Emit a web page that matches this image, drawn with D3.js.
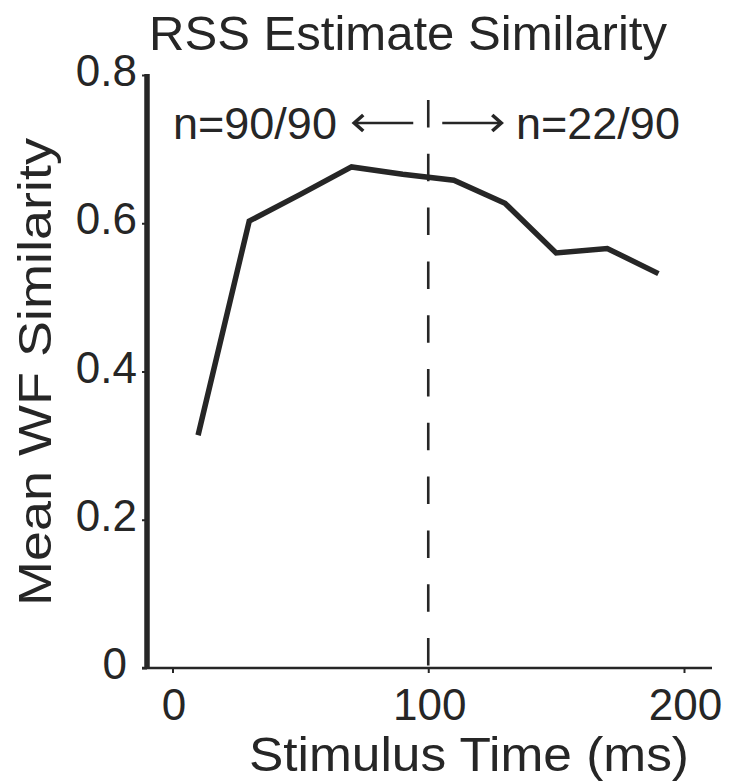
<!DOCTYPE html>
<html>
<head>
<meta charset="utf-8">
<script src="https://cdn.jsdelivr.net/npm/d3@7"></script>
<style>
  html, body { margin: 0; padding: 0; background: #fff; }
  svg { display: block; font-family: "Liberation Sans", Arial, Helvetica, sans-serif; }
</style>
</head>
<body>
<svg id="chart" width="731" height="783"></svg>
<script>
// ---- data ----
const times = [10, 30, 50, 70, 90, 110, 130, 150, 170, 190];
const similarity = [0.314, 0.603, 0.639, 0.676, 0.666, 0.658, 0.627, 0.560, 0.566, 0.532];
const xTicks = [0, 100, 200];
const yTicks = [0, 0.2, 0.4, 0.6, 0.8];
const yTickLabels = ["0", "0.2", "0.4", "0.6", "0.8"];
const splitTime = 100;
const leftLabel = "n=90/90";
const rightLabel = "n=22/90";
const titleText = "RSS Estimate Similarity";
const xLabel = "Stimulus Time (ms)";
const yLabel = "Mean WF Similarity";

// ---- layout ----
const ink = "#262626";
const svg = d3.select("#chart");
const x = d3.scaleLinear().domain([0, 200]).range([172.5, 684]);
const y = d3.scaleLinear().domain([0, 0.8]).range([668, 75]);
const axisLeft = 147, axisRight = 712, axisBottomY = 668;

// title
svg.append("text")
  .attr("x", 408).attr("y", 50)
  .attr("text-anchor", "middle")
  .attr("font-size", 49).attr("fill", ink)
  .attr("textLength", 518).attr("lengthAdjust", "spacingAndGlyphs")
  .text(titleText);

// x axis
const xAxis = svg.append("g").attr("transform", `translate(0,${axisBottomY})`)
  .call(d3.axisBottom(x).tickValues(xTicks).tickSize(5).tickSizeOuter(0).tickPadding(16).tickFormat(d3.format("d")));
xAxis.select(".domain").remove();
xAxis.selectAll(".tick line").attr("stroke", ink).attr("stroke-width", 2);
xAxis.selectAll(".tick text").attr("font-size", 44).attr("fill", ink).attr("font-family", null)
  .attr("dy", "0.71em").attr("dx", 1);
svg.append("line")
  .attr("x1", 142).attr("x2", axisRight)
  .attr("y1", axisBottomY).attr("y2", axisBottomY)
  .attr("stroke", ink).attr("stroke-width", 2.5);

// y axis
const yAxis = svg.append("g").attr("transform", `translate(${axisLeft},0)`)
  .call(d3.axisLeft(y).tickValues(yTicks).tickSize(5).tickSizeOuter(0).tickPadding(10)
    .tickFormat((d, i) => yTickLabels[i]));
yAxis.select(".domain").remove();
yAxis.selectAll(".tick line").attr("stroke", ink).attr("stroke-width", 2);
yAxis.selectAll(".tick text").attr("font-size", 44).attr("fill", ink).attr("font-family", null)
  .attr("dy", "0.24em")
  .attr("x", d => d === 0 ? -20 : -10);
svg.append("line")
  .attr("x1", axisLeft).attr("x2", axisLeft)
  .attr("y1", y(0.8) - 1).attr("y2", axisBottomY + 1)
  .attr("stroke", ink).attr("stroke-width", 5.5);

// axis titles
svg.append("text")
  .attr("x", 469).attr("y", 771)
  .attr("text-anchor", "middle")
  .attr("font-size", 49).attr("fill", ink)
  .attr("textLength", 440).attr("lengthAdjust", "spacingAndGlyphs")
  .text(xLabel);
svg.append("text")
  .attr("transform", `translate(51,372) rotate(-90)`)
  .attr("text-anchor", "middle")
  .attr("font-size", 47).attr("fill", ink)
  .attr("textLength", 468).attr("lengthAdjust", "spacingAndGlyphs")
  .text(yLabel);

// dashed split line
svg.append("line")
  .attr("x1", x(splitTime)).attr("x2", x(splitTime))
  .attr("y1", 100).attr("y2", 674)
  .attr("stroke", ink).attr("stroke-width", 2.6)
  .attr("stroke-dasharray", "27.5,26.3");

// annotations
svg.append("text")
  .attr("x", 173).attr("y", 139)
  .attr("font-size", 45).attr("fill", ink)
  .text(leftLabel);
svg.append("text")
  .attr("x", 516).attr("y", 139)
  .attr("font-size", 45).attr("fill", ink)
  .text(rightLabel);

// arrows
const arrowY = 123;
function arrow(x1, x2) {
  const dir = Math.sign(x2 - x1);
  svg.append("line").attr("x1", x1).attr("x2", x2 - dir * 2).attr("y1", arrowY).attr("y2", arrowY)
    .attr("stroke", ink).attr("stroke-width", 2.4);
  svg.append("path")
    .attr("d", `M${x2 - dir * 9},${arrowY - 8} L${x2},${arrowY} L${x2 - dir * 9},${arrowY + 8}`)
    .attr("fill", "none").attr("stroke", ink).attr("stroke-width", 3.6).attr("stroke-linejoin", "miter");
}
arrow(x(splitTime) - 15, x(splitTime) - 74);
arrow(x(splitTime) + 14, x(splitTime) + 73);

// data line
const line = d3.line().x((d, i) => x(times[i])).y(d => y(d));
svg.append("path")
  .datum(similarity)
  .attr("d", line)
  .attr("fill", "none")
  .attr("stroke", ink)
  .attr("stroke-width", 5.5)
  .attr("stroke-linejoin", "miter");
</script>
</body>
</html>
